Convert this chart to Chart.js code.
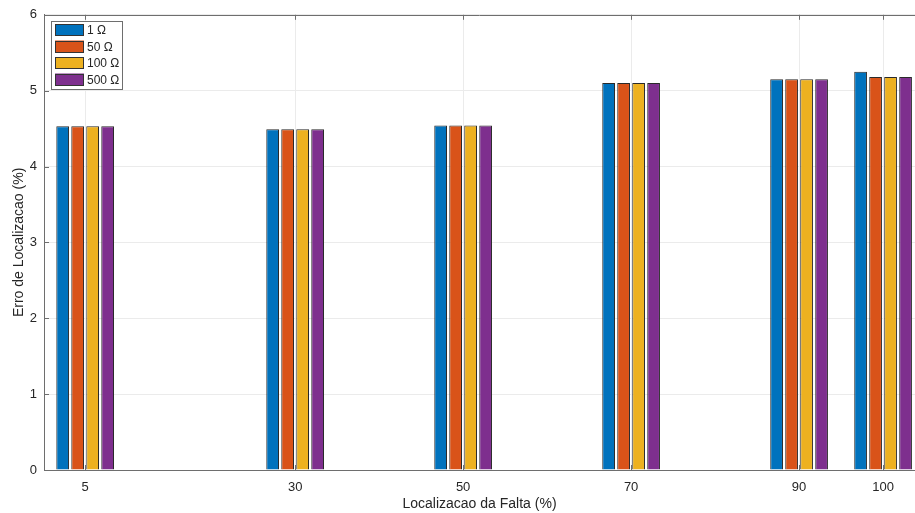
<!DOCTYPE html>
<html>
<head>
<meta charset="utf-8">
<script src="https://cdn.jsdelivr.net/npm/chart.js@4.4.1/dist/chart.umd.min.js"></script>
<style>
  html, body { margin: 0; padding: 0; background: #fff; }
  #wrap { width: 915px; height: 513px; }
</style>
</head>
<body>
<div id="wrap"><canvas id="myChart" width="915" height="513"></canvas></div>
<script>
// Fault positions on the line (%)
const positions = [5, 30, 50, 70, 90, 100];
const seriesNames = ['1 Ω', '50 Ω', '100 Ω', '500 Ω'];

// Location error (%) for each fault resistance
const err1 = [4.53, 4.49, 4.54, 5.10, 5.15, 5.25];
const err50 = [4.53, 4.49, 4.54, 5.10, 5.15, 5.18];
const err100 = [4.53, 4.49, 4.54, 5.10, 5.15, 5.18];
const err500 = [4.53, 4.49, 4.54, 5.10, 5.15, 5.18];

const yTicks = [0, 1, 2, 3, 4, 5, 6];
const colors = ['#0072BD', '#D95319', '#EDB120', '#7E2F8E'];

const allSeries = [err1, err50, err100, err500];
const axisColor = '#6e6e6e';
const gridColor = '#ebebeb';
const textColor = '#262626';
const fontFamily = '"Liberation Sans", Arial, sans-serif';

const datasets = allSeries.map(function(vals, k) {
    return {
        label: seriesNames[k],
        data: positions.map(function(x, i) { return { x: x, y: vals[i] }; }),
        backgroundColor: colors[k],
        borderColor: '#2a2a2a',
        borderWidth: 1,
        categoryPercentage: 0.714,
        barPercentage: 0.85
    };
});

// Box border, inward tick marks and legend inside the axes
const frame = {
    id: 'frame',
    afterDraw: function(chart) {
        const ctx = chart.ctx;
        const a = chart.chartArea;
        const xs = chart.scales.x;
        const ys = chart.scales.y;
        ctx.save();
        ctx.strokeStyle = axisColor;
        ctx.lineWidth = 1;
        ctx.beginPath();
        const top = Math.round(a.top) + 0.5;
        ctx.moveTo(a.left, top);
        ctx.lineTo(a.right, top);
        positions.forEach(function(v) {
            const px = Math.round(xs.getPixelForValue(v)) + 0.5;
            ctx.moveTo(px, a.bottom);
            ctx.lineTo(px, a.bottom - 5);
            ctx.moveTo(px, a.top);
            ctx.lineTo(px, a.top + 5);
        });
        yTicks.forEach(function(v) {
            const py = Math.round(ys.getPixelForValue(v)) + 0.5;
            ctx.moveTo(a.left, py);
            ctx.lineTo(a.left + 5, py);
        });
        ctx.stroke();

        // legend
        const lx = 51, ly = 21, lw = 71, lh = 68;
        ctx.fillStyle = '#ffffff';
        ctx.fillRect(lx, ly, lw, lh);
        ctx.strokeStyle = axisColor;
        ctx.strokeRect(lx + 0.5, ly + 0.5, lw, lh);
        ctx.font = '12px ' + fontFamily;
        ctx.textBaseline = 'middle';
        chart.data.datasets.forEach(function(ds, k) {
            const cy = 30 + k * 16.5;
            ctx.fillStyle = ds.backgroundColor;
            ctx.fillRect(55, cy - 6, 29, 12);
            ctx.strokeStyle = '#333333';
            ctx.strokeRect(55.5, Math.round(cy - 6) + 0.5, 28, 11);
            ctx.fillStyle = textColor;
            ctx.fillText(ds.label, 87, cy + 1);
        });
        ctx.restore();
    }
};

new Chart(document.getElementById('myChart'), {
    type: 'bar',
    data: { datasets: datasets },
    options: {
        responsive: false,
        animation: false,
        layout: { padding: { left: 0, right: 0, top: 11, bottom: 0 } },
        plugins: {
            legend: { display: false },
            tooltip: { enabled: false }
        },
        scales: {
            x: {
                type: 'linear',
                min: 0.1,
                max: 103.8,
                offset: false,
                afterBuildTicks: function(scale) {
                    scale.ticks = positions.map(function(v) { return { value: v }; });
                },
                afterFit: function(scale) { scale.height = 43; },
                grid: { offset: false, color: gridColor, drawTicks: false },
                border: { color: axisColor },
                ticks: {
                    autoSkip: false,
                    maxRotation: 0,
                    padding: 10,
                    color: textColor,
                    font: { family: fontFamily, size: 13 }
                },
                title: {
                    display: true,
                    text: 'Localizacao da Falta (%)',
                    color: textColor,
                    font: { family: fontFamily, size: 14 },
                    padding: { top: 0, bottom: 0 }
                }
            },
            y: {
                min: 0,
                max: 6,
                afterBuildTicks: function(scale) {
                    scale.ticks = yTicks.map(function(v) { return { value: v }; });
                },
                afterFit: function(scale) { scale.width = 44; },
                grid: { color: gridColor, drawTicks: false },
                border: { color: axisColor },
                ticks: {
                    padding: 7,
                    color: textColor,
                    font: { family: fontFamily, size: 13 }
                },
                title: {
                    display: true,
                    text: 'Erro de Localizacao (%)',
                    color: textColor,
                    font: { family: fontFamily, size: 14 },
                    padding: { top: 11, bottom: 0 }
                }
            }
        }
    },
    plugins: [frame]
});
</script>
</body>
</html>
